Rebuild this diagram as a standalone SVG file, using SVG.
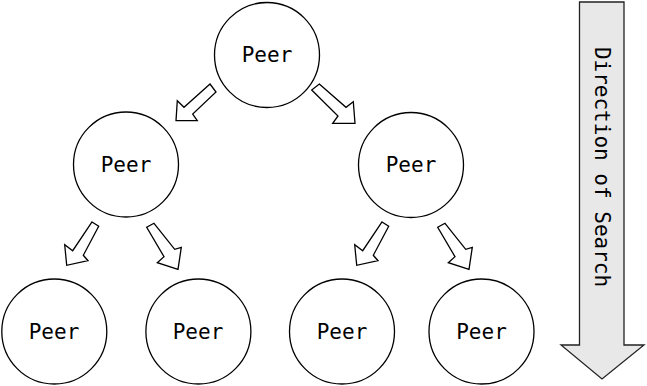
<svg xmlns="http://www.w3.org/2000/svg" width="647" height="386" viewBox="0 0 647 386">
<style>
.node circle{fill:#fff;stroke:#000;stroke-width:1.3}
.node text{font-family:"DejaVu Sans Mono","Liberation Mono",monospace;font-size:21px;text-anchor:middle;fill:#000}
.conn polygon{fill:#fff;stroke:#000;stroke-width:1.3;stroke-linejoin:miter}
.big{fill:#e8e8e8;stroke:#222;stroke-width:1.3}
.lbl{font-family:"DejaVu Sans Mono","Liberation Mono",monospace;font-size:21px;text-anchor:middle;fill:#000}
</style>
<rect width="647" height="386" fill="#fff"/>
<g id="connectors" class="conn">
<polygon points="210,84 216,92 192.7,114 197.3,120.7 176,120.7 177.3,100.7 184,107.3"/>
<polygon points="319.3,84 346,107.3 353.3,101.7 355,123.3 332.7,123.3 338,116 311.7,90"/>
<polygon points="92,222 98.7,226.3 83.3,255.3 88,260.7 66.7,265.3 64.7,244.7 72.7,250.7"/>
<polygon points="154,223.3 174.7,249.3 181.3,247.3 178,269.3 157.3,262.7 164,256.7 146.7,227.3"/>
<polygon points="382,222 388.7,226.3 373.3,255.3 378,260.7 356.7,265.3 354.7,244.7 362.7,250.7"/>
<polygon points="445,223.3 465.7,249.3 472.3,247.3 469,269.3 448.3,262.7 455,256.7 437.7,227.3"/>
</g>
<g id="peer-top" class="node"><circle cx="267" cy="55" r="52.5"/><text x="267" y="62">Peer</text></g>
<g id="peer-mid-left" class="node"><circle cx="126" cy="164.5" r="52.5"/><text x="126" y="171.5">Peer</text></g>
<g id="peer-mid-right" class="node"><circle cx="411" cy="165" r="52.5"/><text x="411" y="172">Peer</text></g>
<g id="peer-bot-1" class="node"><circle cx="54.3" cy="331.5" r="52.5"/><text x="54" y="338.5">Peer</text></g>
<g id="peer-bot-2" class="node"><circle cx="198.4" cy="331.5" r="52.5"/><text x="198" y="338.5">Peer</text></g>
<g id="peer-bot-3" class="node"><circle cx="342" cy="331.5" r="52.5"/><text x="342" y="338.5">Peer</text></g>
<g id="peer-bot-4" class="node"><circle cx="481.5" cy="331.5" r="52.5"/><text x="481.5" y="338.5">Peer</text></g>
<g id="direction">
<polygon class="big" points="579.5,2 624,2 624,345 644,345 602,379 561,345 579.5,345"/>
<text class="lbl" transform="translate(595,167) rotate(90)">Direction of Search</text>
</g>
</svg>
